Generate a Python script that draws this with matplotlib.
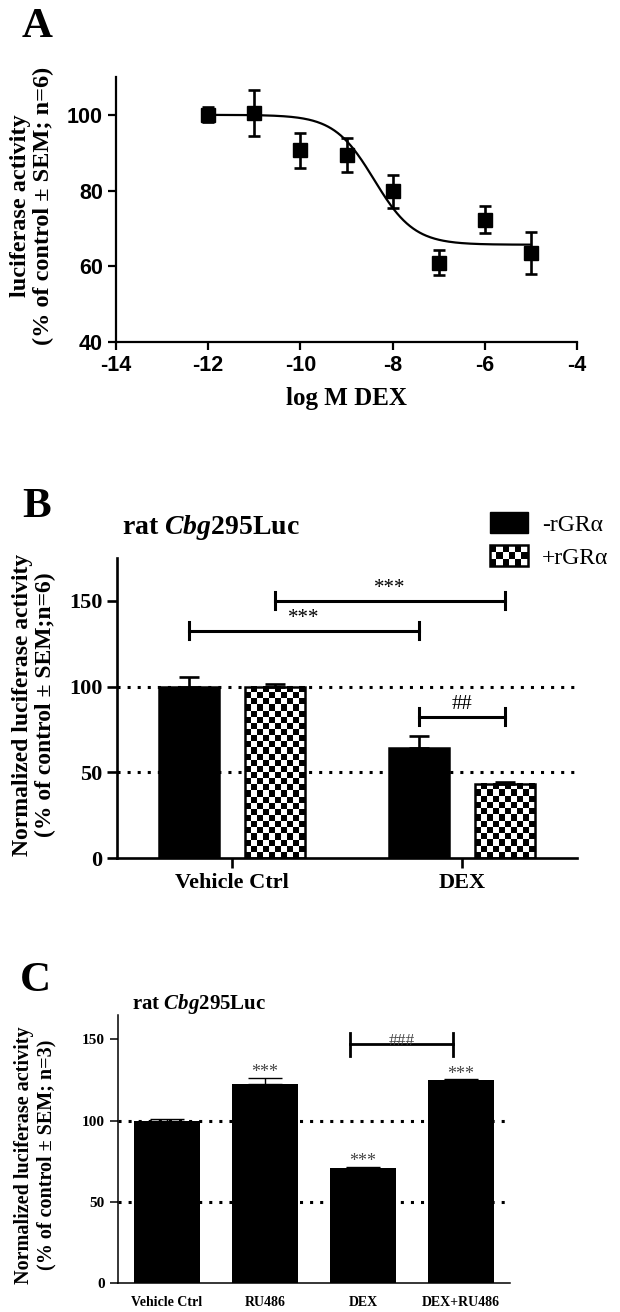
import numpy as np
import matplotlib
matplotlib.use("Agg")
import matplotlib.pyplot as plt
from matplotlib.patches import Rectangle
from matplotlib.legend_handler import HandlerBase

# ---- panel A: DEX dose response ----
log_dex = [-12, -11, -10, -9, -8, -7, -6, -5]
resp_a = [100.0, 100.4, 90.6, 89.4, 79.8, 61.0, 72.3, 63.5]
sem_a = [2.0, 6.1, 4.7, 4.6, 4.3, 3.4, 3.6, 5.5]
# fitted sigmoid (top, bottom, logEC50, hill)
fit_top, fit_bottom, fit_logec50, fit_hill = 100.0, 65.7, -8.4, 1.0

# ---- panel B ----
groups_b = ["Vehicle Ctrl", "DEX"]
minus_gr = [100.0, 64.0]
minus_gr_sem = [5.5, 7.3]
plus_gr = [100.0, 43.2]
plus_gr_sem = [1.5, 1.4]
legend_b = ["-rGR\u03b1", "+rGR\u03b1"]
# (series, group) -> (series, group), height, label
sig_b = [(("m", 0), ("m", 1), 132.7, "***"),
         (("p", 0), ("p", 1), 150.2, "***"),
         (("m", 1), ("p", 1), 82.4, "##")]

# ---- panel C ----
groups_c = ["Vehicle Ctrl", "RU486", "DEX", "DEX+RU486"]
vals_c = [100.0, 122.8, 71.0, 124.8]
sem_c = [1.0, 3.7, 0.6, 0.5]
stars_c = ["", "***", "***", "***"]
sig_c = (2, 3, 147.0, "###")

plt.rcParams['font.family'] = ['Liberation Serif', 'DejaVu Serif']
plt.rcParams['font.weight'] = 'bold'
plt.rcParams['axes.unicode_minus'] = False
plt.rcParams['mathtext.fontset'] = 'custom'
plt.rcParams['mathtext.it'] = 'Liberation Serif:italic:bold'
plt.rcParams['mathtext.rm'] = 'Liberation Serif:bold'

fig = plt.figure(figsize=(6.2, 13.12), dpi=100)
W, H = 620.0, 1312.0


def axes_px(l, t, r, b):
    return fig.add_axes([l / W, 1 - b / H, (r - l) / W, (b - t) / H])


def style_axes(ax, lw):
    for s in ['top', 'right']:
        ax.spines[s].set_visible(False)
    for s in ['left', 'bottom']:
        ax.spines[s].set_linewidth(lw)


# ================= A =================
axA = axes_px(116, 77, 577, 342)
style_axes(axA, 1.6)
xs = np.linspace(-12, -5, 300)
curve = fit_bottom + (fit_top - fit_bottom) / (1 + 10 ** ((xs - fit_logec50) * fit_hill))
axA.plot(xs, curve, color='black', lw=1.6)
axA.errorbar(log_dex, resp_a, yerr=sem_a, fmt='s', color='black', ms=10,
             elinewidth=1.9, capsize=4, capthick=1.9)
axA.set_xlim(-14, -4)
axA.set_ylim(40, 110)
axA.set_xticks(range(-14, -3, 2))
axA.set_yticks([40, 60, 80, 100])
axA.tick_params(width=1.6, length=6, labelsize=15.5)
for lab in axA.get_xticklabels() + axA.get_yticklabels():
    lab.set_family('Liberation Sans')
    lab.set_weight('bold')
axA.set_xlabel("log M DEX", fontsize=18, fontweight='bold', labelpad=8)
fig.text(32 / W, 1 - 206 / H, "luciferase activity\n(% of control \u00b1 SEM; n=6)",
         rotation=90, ha='center', va='center', ma='center', fontsize=17.5,
         fontweight='bold', linespacing=1.15)
fig.text(22 / W, 1 - 8 / H, "A", fontsize=31, fontweight='bold', va='top')

# ================= B =================
axB = axes_px(117, 558, 577, 858)
style_axes(axB, 1.9)
off, bw = 0.187, 0.26
xb = np.arange(len(groups_b))
axB.axhline(100, color='black', lw=2.2, ls=(0, (1, 2.3)), zorder=1)
axB.axhline(50, color='black', lw=2.2, ls=(0, (1, 2.3)), zorder=1)
bars_m = axB.bar(xb - off, minus_gr, bw, color='black', edgecolor='black', lw=1.8, zorder=3)
bars_p = axB.bar(xb + off, plus_gr, bw, facecolor='none', edgecolor='black', lw=1.8, zorder=4)
cell_w, cell_h = 0.026, 3.6
for b in bars_p:
    x0, w, h = b.get_x(), b.get_width(), b.get_height()
    nc = int(round(w / cell_w))
    nr = int(round(h / cell_h))
    board = np.indices((nr, nc)).sum(axis=0) % 2
    axB.imshow(board, cmap='gray', extent=(x0, x0 + w, 0, h), aspect='auto',
               interpolation='nearest', origin='lower', zorder=2)
axB.errorbar(xb - off, minus_gr, yerr=[np.zeros(2), minus_gr_sem], fmt='none',
             ecolor='black', elinewidth=1.9, capsize=7, capthick=1.9, zorder=5)
axB.errorbar(xb + off, plus_gr, yerr=[np.zeros(2), plus_gr_sem], fmt='none',
             ecolor='black', elinewidth=1.9, capsize=7, capthick=1.9, zorder=5)
pos_b = {"m": xb - off, "p": xb + off}
for (s1, g1), (s2, g2), yv, lab in sig_b:
    x1, x2 = pos_b[s1][g1], pos_b[s2][g2]
    axB.plot([x1, x2], [yv, yv], color='black', lw=2.2)
    axB.plot([x1, x1], [yv - 5, yv + 5], color='black', lw=2.2)
    axB.plot([x2, x2], [yv - 5, yv + 5], color='black', lw=2.2)
    axB.text((x1 + x2) / 2, yv + 1.5, lab, ha='center', va='bottom',
             fontsize=15, fontweight='normal')
axB.set_xlim(-0.5, 1.5)
axB.set_ylim(0, 175)
axB.set_xticks(xb)
axB.set_xticklabels(groups_b)
axB.set_yticks([0, 50, 100, 150])
axB.tick_params(width=1.9, length=7, labelsize=16)
fig.text(22 / W, 1 - 488 / H, "B", fontsize=31, fontweight='bold', va='top')
fig.text(122 / W, 1 - 528 / H, "rat $\\it{Cbg}$295Luc", fontsize=20,
         fontweight='bold', va='center')
fig.text(34 / W, 1 - 705 / H, "Normalized luciferase activity\n(% of control \u00b1 SEM;n=6)",
         rotation=90, ha='center', va='center', ma='center', fontsize=17,
         fontweight='bold', linespacing=1.1)


class CheckerHandler(HandlerBase):
    def create_artists(self, legend, orig_handle, xdescent, ydescent,
                       width, height, fontsize, trans):
        arts = [Rectangle((-xdescent, -ydescent), width, height, fc='white',
                          ec='black', lw=1.8, transform=trans)]
        n, m = 6, 3
        for i in range(n):
            for j in range(m):
                if (i + j) % 2 == 0:
                    arts.append(Rectangle((-xdescent + i * width / n, -ydescent + j * height / m),
                                          width / n, height / m, fc='black', ec='none',
                                          transform=trans))
        return arts


h_black = Rectangle((0, 0), 1, 1, fc='black', ec='black')
h_check = Rectangle((0, 0), 1, 1, fc='white', ec='black')
axB.legend([h_black, h_check], legend_b, loc='upper left',
           bbox_to_anchor=(490 / W, 1 - 512 / H), bbox_transform=fig.transFigure,
           frameon=False, handler_map={h_check: CheckerHandler()},
           prop={'size': 17, 'weight': 'normal'}, handlelength=1.6, handleheight=1.0,
           handletextpad=0.6, labelspacing=0.4, borderpad=0, borderaxespad=0)

# ================= C =================
axC = axes_px(118, 1015, 510, 1283)
style_axes(axC, 1.1)
xc = np.arange(len(groups_c))
axC.axhline(100, color='black', lw=2.2, ls=(0, (1, 2.3)), zorder=1)
axC.axhline(50, color='black', lw=2.2, ls=(0, (1, 2.3)), zorder=1)
axC.bar(xc, vals_c, 0.67, color='black', zorder=3)
axC.errorbar(xc, vals_c, yerr=[np.zeros(4), sem_c], fmt='none', ecolor='black',
             elinewidth=1.0, capsize=12, capthick=1.0, zorder=4)
for x, v, e, st in zip(xc, vals_c, sem_c, stars_c):
    if st:
        axC.text(x, v + e - 2.0, st, ha='center', va='bottom', fontsize=13,
                 fontweight='normal', color='#444444')
i1, i2, yv, lab = sig_c
x1, x2 = xc[i1] - 0.13, xc[i2] - 0.08
axC.plot([x1, x2], [yv, yv], color='black', lw=2.0)
axC.plot([x1, x1], [yv - 7, yv + 7], color='black', lw=2.0)
axC.plot([x2, x2], [yv - 7, yv + 7], color='black', lw=2.0)
axC.text((x1 + x2) / 2, yv - 3.0, lab, ha='center', va='bottom', fontsize=12.5,
         fontweight='normal', color='#444444')
axC.set_xlim(-0.5, 3.5)
axC.set_ylim(0, 165)
axC.set_xticks(xc)
axC.set_xticklabels(groups_c)
axC.set_yticks([0, 50, 100, 150])
axC.tick_params(axis='y', width=1.1, length=6, labelsize=11)
axC.tick_params(axis='x', length=0, labelsize=10, pad=9)
fig.text(20 / W, 1 - 962 / H, "C", fontsize=31, fontweight='bold', va='top')
fig.text(132 / W, 1 - 1004 / H, "rat $\\it{Cbg}$295Luc", fontsize=15,
         fontweight='bold', va='center')
fig.text(35 / W, 1 - 1155 / H, "Normalized luciferase activity\n(% of control \u00b1 SEM; n=3)",
         rotation=90, ha='center', va='center', ma='center', fontsize=14.5,
         fontweight='bold', linespacing=1.15)

fig.savefig("out.png", dpi=100)
